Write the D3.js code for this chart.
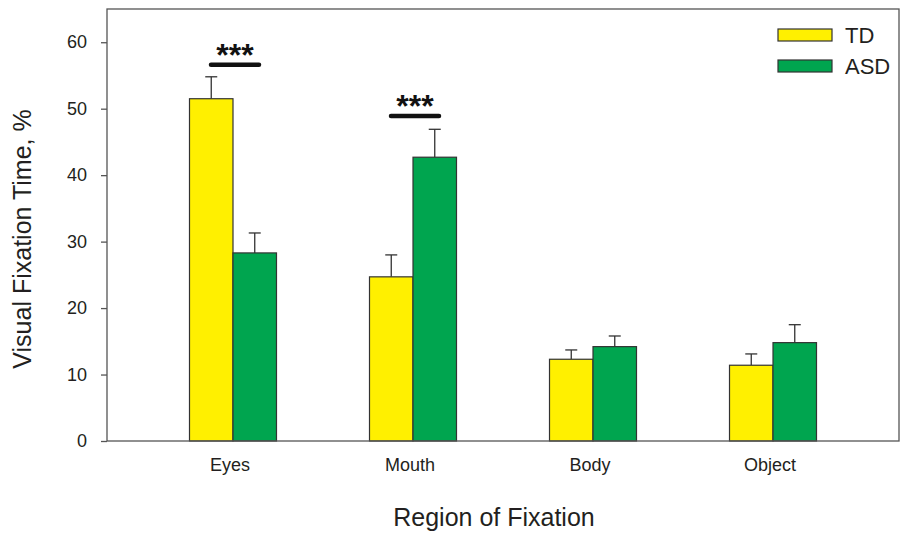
<!DOCTYPE html>
<html>
<head>
<meta charset="utf-8">
<script src="https://cdn.jsdelivr.net/npm/d3@7/dist/d3.min.js"></script>
<style>
  html, body { margin: 0; padding: 0; background: #fff; }
  svg { display: block; font-family: "Liberation Sans", Arial, Helvetica, sans-serif; }
</style>
</head>
<body>
<svg id="chart" width="900" height="538"></svg>
<script>
// Fixation regions and series
const regions = ["Eyes", "Mouth", "Body", "Object"];
const groups = ["TD", "ASD"];

// Mean visual fixation time (%) per region
const tdMeans  = [51.5, 24.7, 12.3, 11.4];
const asdMeans = [28.3, 42.7, 14.2, 14.8];

// Standard errors (drawn upward only)
const tdErr  = [3.3, 3.3, 1.4, 1.7];
const asdErr = [3.0, 4.2, 1.6, 2.7];

// Significance markers: region, bracket level (%), label
const sigRegions = ["Eyes", "Mouth"];
const sigLevels  = [56.6, 48.9];
const sigLabels  = ["***", "***"];

const yTicks = [0, 10, 20, 30, 40, 50, 60];
const yMax = 65;

const colors = { TD: "#fff000", ASD: "#00a54f" };

const svg = d3.select("#chart");
const margin = { left: 107, right: 1, top: 9, bottom: 97 };
const W = 900, H = 538;
const x0 = margin.left, x1 = W - margin.right;
const yTop = margin.top, yBot = H - margin.bottom;

const x = d3.scaleBand()
  .domain(regions)
  .range([x0, x1])
  .paddingInner(0.5167)
  .paddingOuter(0.4583);

const xs = d3.scaleBand().domain(groups).range([0, x.bandwidth()]);

const y = d3.scaleLinear().domain([0, yMax]).range([yBot, yTop]);

const ink = "#231f20";
const axisGray = "#555";

// Data rows
const rows = [];
regions.forEach((r, i) => {
  rows.push({ region: r, group: "TD", mean: tdMeans[i], err: tdErr[i] });
  rows.push({ region: r, group: "ASD", mean: asdMeans[i], err: asdErr[i] });
});

// Error bars (behind bars)
const eb = svg.append("g").attr("stroke", "#333").attr("stroke-width", 1.3);
rows.forEach(d => {
  const cx = x(d.region) + xs(d.group) + xs.bandwidth() / 2;
  eb.append("line").attr("x1", cx).attr("x2", cx)
    .attr("y1", y(d.mean)).attr("y2", y(d.mean + d.err));
  eb.append("line").attr("x1", cx - 6).attr("x2", cx + 6)
    .attr("y1", y(d.mean + d.err)).attr("y2", y(d.mean + d.err));
});

// Bars
svg.append("g").selectAll("rect").data(rows).join("rect")
  .attr("x", d => x(d.region) + xs(d.group))
  .attr("y", d => y(d.mean))
  .attr("width", xs.bandwidth())
  .attr("height", d => y(0) - y(d.mean))
  .attr("fill", d => colors[d.group])
  .attr("stroke", "#333")
  .attr("stroke-width", 1.2);

// Plot frame
svg.append("rect")
  .attr("x", x0).attr("y", yTop)
  .attr("width", x1 - x0).attr("height", yBot - yTop)
  .attr("fill", "none").attr("stroke", axisGray).attr("stroke-width", 1.3);

// Y axis
const yAxis = d3.axisLeft(y).tickValues(yTicks).tickSize(6).tickPadding(14).tickFormat(d3.format("d"));
const ya = svg.append("g").attr("transform", `translate(${x0},0)`).call(yAxis);
ya.select(".domain").remove();
ya.selectAll(".tick line").attr("stroke", axisGray).attr("stroke-width", 1.3);
ya.selectAll(".tick text").attr("fill", ink).style("font-size", "18px")
  .style("font-family", "'Liberation Sans', Arial, sans-serif");

// X axis (labels only)
const xAxis = d3.axisBottom(x).tickSize(0).tickPadding(17);
const xa = svg.append("g").attr("transform", `translate(-3,${yBot})`).call(xAxis);
xa.select(".domain").remove();
xa.selectAll(".tick text").attr("fill", ink).style("font-size", "18px")
  .style("font-family", "'Liberation Sans', Arial, sans-serif");

// Axis titles
svg.append("text")
  .attr("x", 494).attr("y", 526)
  .attr("text-anchor", "middle")
  .attr("fill", ink).style("font-size", "25px")
  .text("Region of Fixation");

svg.append("text")
  .attr("transform", `translate(31,${(100 + 378) / 2}) rotate(-90)`)
  .attr("text-anchor", "middle")
  .attr("fill", ink).style("font-size", "25px")
  .text("Visual Fixation Time, %");

// Significance brackets
sigRegions.forEach((r, i) => {
  const cx = x(r) + x.bandwidth() / 2 + 2;
  const yy = y(sigLevels[i]);
  svg.append("line")
    .attr("x1", cx - 24).attr("x2", cx + 24)
    .attr("y1", yy).attr("y2", yy)
    .attr("stroke", "#111").attr("stroke-width", 4.5).attr("stroke-linecap", "round");
  svg.append("text")
    .attr("x", cx).attr("y", yy + 1)
    .attr("text-anchor", "middle")
    .attr("fill", "#111")
    .style("font-size", "32px").style("font-weight", "bold")
    .text(sigLabels[i]);
});

// Legend
const lg = svg.append("g");
groups.forEach((g, i) => {
  const ly = 29 + i * 31;
  lg.append("rect")
    .attr("x", 778).attr("y", ly)
    .attr("width", 54).attr("height", 12)
    .attr("fill", colors[g]).attr("stroke", "#333").attr("stroke-width", 1.2);
  lg.append("text")
    .attr("x", 845).attr("y", ly + 13.5)
    .attr("fill", ink).style("font-size", "22px")
    .text(g);
});
</script>
</body>
</html>
